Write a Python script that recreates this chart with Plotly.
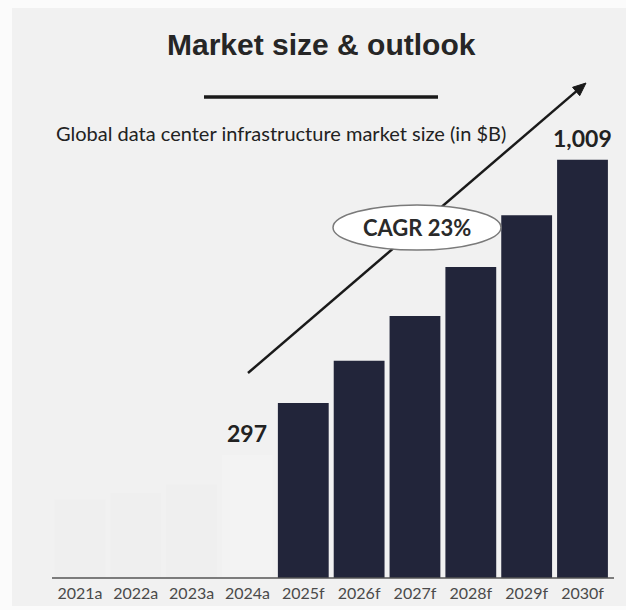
import plotly.graph_objects as go

# Market size data (in $B)
years = ["2021a", "2022a", "2023a", "2024a", "2025f", "2026f", "2027f", "2028f", "2029f", "2030f"]
market_size = [190, 205, 225, 297, 422, 524, 632, 750, 875, 1009]
bar_colors = ["#efefef", "#efefef", "#efefef", "#f3f3f3",
              "#22253a", "#22253a", "#22253a", "#22253a", "#22253a", "#22253a"]
labelled = {"2024a": "297", "2030f": "1,009"}

title_text = "Market size & outlook"
subtitle_text = "Global data center infrastructure market size (in $B)"
cagr_text = "CAGR 23%"

W, H = 626, 610
L, R, T, B = 52, 614, 122, 578


def px(x):
    return (x - L) / (R - L)


def py(y):
    return (B - y) / (B - T)


fig = go.Figure()
fig.add_trace(go.Bar(
    x=years, y=market_size,
    marker=dict(color=bar_colors, line=dict(width=0)),
    hoverinfo="x+y",
))

shapes = [
    # soft grey panel behind everything
    dict(type="rect", xref="paper", yref="paper", layer="below",
         x0=px(12), x1=px(626), y0=py(8), y1=py(606),
         fillcolor="#f1f1f1", line=dict(width=0)),
    # rule under the heading
    dict(type="line", xref="paper", yref="paper",
         x0=px(204), x1=px(438), y0=py(97), y1=py(97),
         line=dict(color="#1a1a1a", width=3.5)),
    # baseline
    dict(type="line", xref="paper", yref="paper",
         x0=px(52), x1=px(614), y0=py(578), y1=py(578),
         line=dict(color="#555555", width=1.5)),
]

# growth arrow
x0a, y0a, x1a, y1a = 248, 373, 586, 83
dx, dy = x1a - x0a, y1a - y0a
ln = (dx ** 2 + dy ** 2) ** 0.5
ux, uy = dx / ln, dy / ln
nx, ny = -uy, ux
hl, hw = 13, 5.5
bx, by = x1a - hl * ux, y1a - hl * uy
shapes.append(dict(type="line", xref="paper", yref="paper",
                   x0=px(x0a), y0=py(y0a), x1=px(bx + 2 * ux), y1=py(by + 2 * uy),
                   line=dict(color="#1a1a1a", width=2.5)))
head = "M {} {} L {} {} L {} {} Z".format(
    px(x1a), py(y1a),
    px(bx + hw * nx), py(by + hw * ny),
    px(bx - hw * nx), py(by - hw * ny))
shapes.append(dict(type="path", xref="paper", yref="paper", path=head,
                   fillcolor="#1a1a1a", line=dict(color="#1a1a1a", width=1)))
# CAGR ellipse
shapes.append(dict(type="circle", xref="paper", yref="paper",
                   x0=px(333), x1=px(501), y0=py(250), y1=py(205),
                   fillcolor="#ffffff", line=dict(color="#7a7a7a", width=1.5)))

annotations = [
    dict(text="<b>" + title_text + "</b>", xref="paper", yref="paper", x=px(321), y=py(44),
         showarrow=False, xanchor="center", yanchor="middle",
         font=dict(family="Liberation Sans, Arial", size=30, color="#262626"),
         ),
    dict(text=subtitle_text, xref="paper", yref="paper", x=px(54), y=py(133),
         showarrow=False, xanchor="left", yanchor="middle",
         font=dict(family="Lato", size=20, color="#222222")),
    dict(text="<b>" + cagr_text + "</b>", xref="paper", yref="paper", x=px(417), y=py(228),
         showarrow=False, xanchor="center", yanchor="middle",
         font=dict(family="Lato", size=22, color="#2a2a2a")),
]
for yr, val in zip(years, market_size):
    if yr in labelled:
        annotations.append(dict(
            text="<b>" + labelled[yr] + "</b>", x=yr, y=val, xref="x", yref="y",
            showarrow=False, xanchor="center", yanchor="bottom", yshift=6,
            font=dict(family="Lato", size=23, color="#222222")))

fig.update_layout(
    width=W, height=H,
    margin=dict(l=L, r=W - R, t=T, b=H - B, pad=0, autoexpand=False),
    paper_bgcolor="#fbfbfb",
    plot_bgcolor="rgba(0,0,0,0)",
    bargap=0.09,
    showlegend=False,
    shapes=shapes,
    annotations=annotations,
    xaxis=dict(showgrid=False, showline=False, zeroline=False, ticks="",
               tickfont=dict(family="Lato", size=16, color="#4a4a4a"),
               ticklabelstandoff=4, automargin=False, fixedrange=True),
    yaxis=dict(range=[0, 1100], visible=False, fixedrange=True, automargin=False),
)

fig.write_html("out.html")
